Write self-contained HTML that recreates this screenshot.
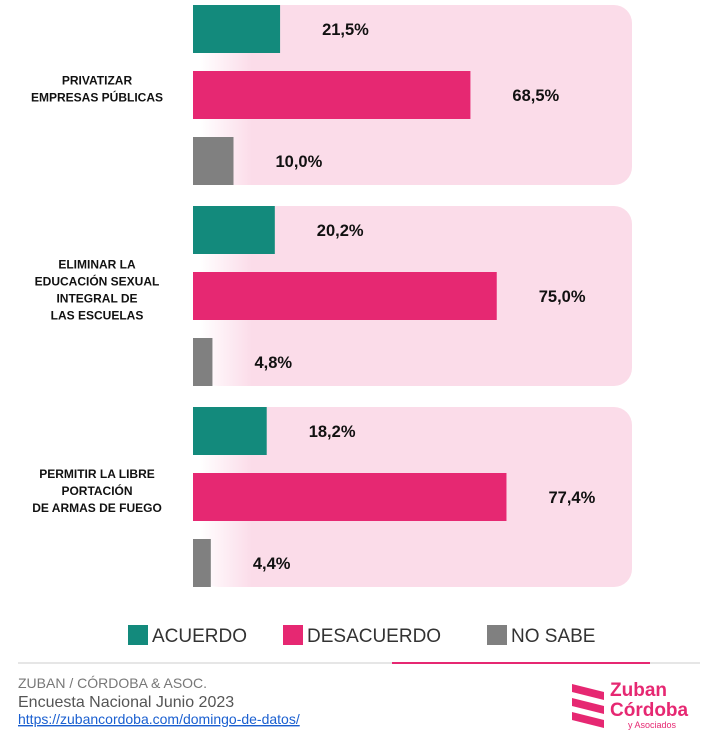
<!DOCTYPE html>
<html><head><meta charset="utf-8"><style>
body{margin:0;width:718px;height:732px;background:#fff;font-family:"Liberation Sans",sans-serif;position:relative;overflow:hidden}
svg{position:absolute;left:0;top:0}
</style></head><body>
<svg width="718" height="732">
<defs><linearGradient id="fade" x1="0" x2="1"><stop offset="0" stop-color="#fbdce9" stop-opacity="0"/><stop offset="0.12" stop-color="#fbdce9"/><stop offset="1" stop-color="#fbdce9"/></linearGradient></defs>
<g id="plot"></g>
<g>
<rect x="128" y="625" width="20" height="20" fill="#138a7c"/><text x="152" y="642" font-size="19" fill="#333">ACUERDO</text>
<rect x="283" y="625" width="20" height="20" fill="#e62872"/><text x="307" y="642" font-size="19" fill="#333">DESACUERDO</text>
<rect x="487" y="625" width="20" height="20" fill="#808080"/><text x="511" y="642" font-size="19" fill="#333">NO SABE</text>
</g>
<line x1="18" y1="663" x2="700" y2="663" stroke="#ccc" stroke-width="1"/>
<line x1="392" y1="663" x2="650" y2="663" stroke="#e62872" stroke-width="2"/>
<text x="18" y="688" font-size="14" fill="#777">ZUBAN / CÓRDOBA &amp; ASOC.</text>
<text x="18" y="707" font-size="16" fill="#555">Encuesta Nacional Junio 2023</text>
<text x="18" y="724" font-size="14" fill="#1a5fd0" text-decoration="underline">https://zubancordoba.com/domingo-de-datos/</text>
<g>
<polygon points="572,684 604,692 604,700 572,692" fill="#e62872"/>
<polygon points="572,698 604,706 604,714 572,706" fill="#e62872"/>
<polygon points="572,712 604,720 604,728 572,720" fill="#e62872"/>
<text x="610" y="696" font-size="19" font-weight="bold" fill="#e62872">Zuban</text>
<text x="610" y="716" font-size="19" font-weight="bold" fill="#e62872">Córdoba</text>
<text x="628" y="728" font-size="9" fill="#e62872">y Asociados</text>
</g>
</svg>
<script>
const categories=[["PRIVATIZAR","EMPRESAS PÚBLICAS"],["ELIMINAR LA","EDUCACIÓN SEXUAL","INTEGRAL DE","LAS ESCUELAS"],["PERMITIR LA LIBRE","PORTACIÓN","DE ARMAS DE FUEGO"]];
const acuerdo=[21.5,20.2,18.2];
const desacuerdo=[68.5,75.0,77.4];
const noSabe=[10.0,4.8,4.4];
const series=[acuerdo,desacuerdo,noSabe];
const colors=["#138a7c","#e62872","#808080"];
const x0=193,scale=4.05;
const xs=v=>v*scale;
const ns="http://www.w3.org/2000/svg";
const g=document.getElementById('plot');
function mk(t,a){const e=document.createElementNS(ns,t);for(const k in a)e.setAttribute(k,a[k]);g.appendChild(e);return e;}
categories.forEach((c,i)=>{
  const top=5+i*201;
  const p=mk('rect',{x:200,y:top,width:432,height:180,rx:18,fill:'url(#fade)'});
  
  
  series.forEach((s,j)=>{
    const y=top+j*66;
    const r=mk('rect',{x:x0,y:y,width:xs(s[i]),height:48,fill:colors[j]});
    
    
    const t=mk('text',{x:x0+xs(s[i])+42,y:y+30,'font-size':16.5,'font-weight':'bold',fill:'#111'});
    t.textContent=s[i].toFixed(1).replace('.',',')+'%';
    
    
  });
  const cy=top+84-(c.length-1)*8.5+4;
  c.forEach((l,k)=>{
    const t=mk('text',{x:97,y:cy+k*17,'font-size':12,'font-weight':'bold','text-anchor':'middle',fill:'#111'});
    t.textContent=l;
    
    
  });
});
</script>
</body></html>
